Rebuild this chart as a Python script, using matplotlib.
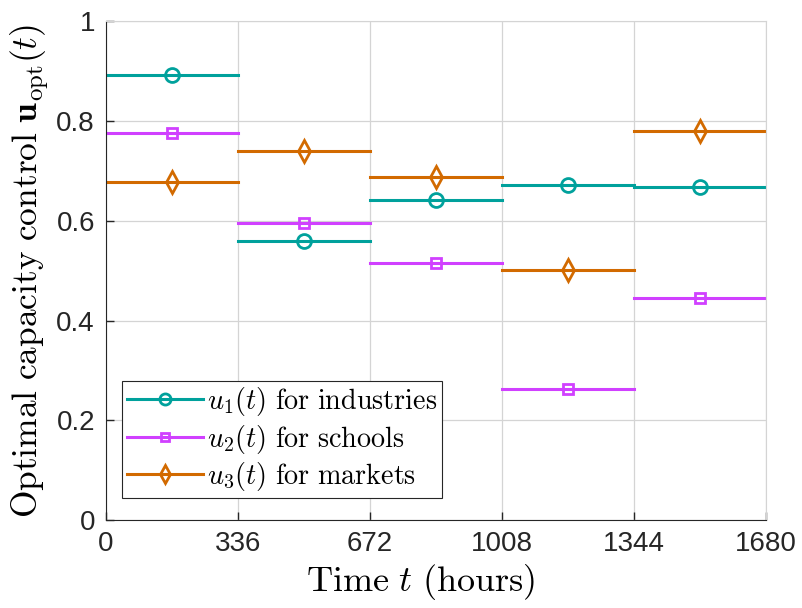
import numpy as np
import matplotlib.pyplot as plt

plt.rcParams['mathtext.fontset'] = 'cm'
plt.rcParams['font.family'] = ['Liberation Sans', 'DejaVu Sans']

edges = [0, 336, 672, 1008, 1344, 1680]
u1 = [0.893, 0.560, 0.641, 0.671, 0.668]
u2 = [0.776, 0.596, 0.516, 0.262, 0.446]
u3 = [0.679, 0.741, 0.689, 0.502, 0.780]
labels = [r'$u_1(t)\ \mathrm{for\ industries}$', r'$u_2(t)\ \mathrm{for\ schools}$',
          r'$u_3(t)\ \mathrm{for\ markets}$']
colors = ['#00A19C', '#D040FF', '#D26A00']
markers = ['o', 's', 'd']
msizes = [10, 7, 11]

fig = plt.figure(figsize=(8.03, 6.08), dpi=100)
ax = fig.add_axes([0.132, 0.1447, 0.822, 0.82])

for vals, lab, c, m, ms in zip([u1, u2, u3], labels, colors, markers, msizes):
    for k in range(len(vals)):
        ax.plot([edges[k], edges[k + 1]], [vals[k], vals[k]], color=c, lw=2.2)
        ax.plot((edges[k] + edges[k + 1]) / 2, vals[k], marker=m, color=c,
                mfc='none', mew=2, ms=ms)
    # legend proxy
    ax.plot([], [], color=c, lw=2.2, marker=m, mfc='none', mew=2, ms=ms * 0.8, label=lab)

ax.set_xlim(0, 1680)
ax.set_ylim(0, 1)
ax.set_xticks(edges)
ax.set_yticks([0, 0.2, 0.4, 0.6, 0.8, 1])
ax.set_yticklabels(['0', '0.2', '0.4', '0.6', '0.8', '1'])
ax.grid(True, color='#d4d4d4', lw=0.9)
ax.tick_params(direction='in', labelsize=20, length=6, width=1, pad=8, colors='#262626')
ax.spines['left'].set_color('#262626')
ax.spines['bottom'].set_color('#262626')
ax.spines['top'].set_color('#d4d4d4')
ax.spines['right'].set_color('#d4d4d4')

ax.set_xlabel(r'$\mathrm{Time}\ t\ \mathrm{(hours)}$', fontsize=26, labelpad=0)
ax.xaxis.set_label_coords(0.477, -0.085)
ax.set_ylabel(r'$\mathrm{Optimal\ capacity\ control}\ \mathbf{u}_{\mathrm{opt}}(t)$', fontsize=25.5, labelpad=4)

leg = ax.legend(loc='lower left', bbox_to_anchor=(0.025, 0.045), fontsize=20.3, frameon=True,
                fancybox=False, edgecolor='#262626', borderpad=0.15, handlelength=2.7,
                handletextpad=0.15, labelspacing=0.16, borderaxespad=0, framealpha=1)
leg.get_frame().set_linewidth(0.8)

fig.savefig('out.png', dpi=100)
